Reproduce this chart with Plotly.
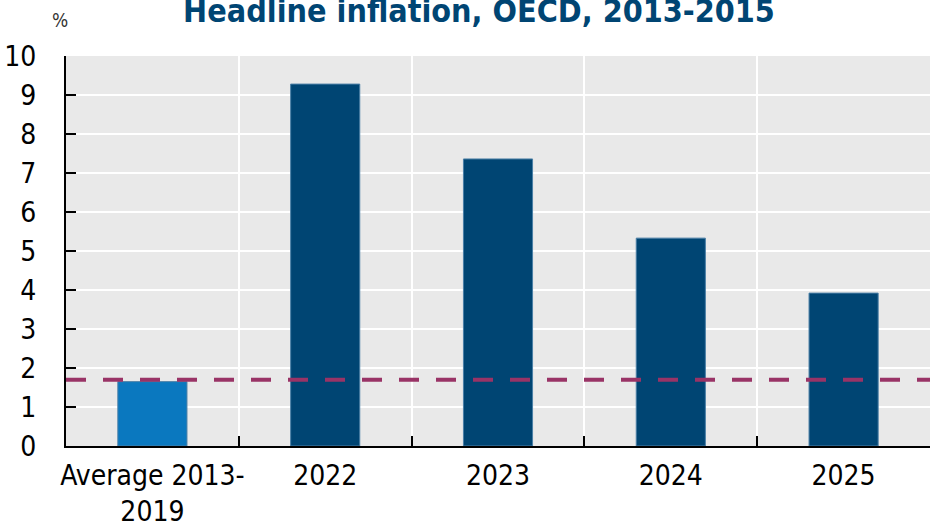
import plotly.graph_objects as go

categories = ["Average 2013-<br>2019", "2022", "2023", "2024", "2025"]
values = [1.65, 9.28, 7.36, 5.33, 3.92]
bar_colors = ["#0a78bf", "#004573", "#004573", "#004573", "#004573"]
reference_level = 1.7
y_ticks = [0, 1, 2, 3, 4, 5, 6, 7, 8, 9, 10]

FONT = "DejaVu Sans Condensed, Liberation Sans Narrow, Liberation Sans, Arial, sans-serif"

fig = go.Figure()
fig.add_trace(go.Bar(
    x=categories, y=values,
    marker=dict(color=bar_colors, line=dict(color="#4a7fa6", width=1)),
    width=0.4,
    showlegend=False,
))

fig.add_shape(type="line", xref="paper", x0=0, x1=1, yref="y",
              y0=reference_level, y1=reference_level,
              line=dict(color="#993366", width=4, dash="20px,17px"),
              layer="above")

fig.update_layout(
    width=930, height=526,
    margin=dict(l=66, r=0, t=56, b=80, autoexpand=False),
    paper_bgcolor="white",
    plot_bgcolor="#e9e9e9",
    font=dict(family=FONT, size=28, color="black"),
    title=dict(text="<b>Headline inflation, OECD, 2013-2015</b>",
               font=dict(family=FONT, size=32, color="#004573"),
               x=0.478, xanchor="center", xref="paper",
               y=1 - 11 / 526, yanchor="middle", yref="container",
               automargin=False),
    annotations=[dict(text="%", xref="paper", yref="paper", x=-0.007, y=1.092,
                      xanchor="center", yanchor="middle", showarrow=False,
                      font=dict(family=FONT, size=19, color="#333333"))],
    bargap=0.6,
)

fig.update_xaxes(
    type="category", automargin=False, tickangle=0,
    tickson="boundaries", ticks="inside", ticklen=10, tickcolor="black", tickwidth=2,
    showgrid=True, gridcolor="white", gridwidth=2,
    showline=True, linecolor="black", linewidth=2,
    ticklabelstandoff=3,
    tickfont=dict(family=FONT, size=28, color="black"),
)
fig.update_yaxes(
    range=[0, 10], tickvals=y_ticks, automargin=False,
    ticks="inside", ticklen=10, tickcolor="black", tickwidth=2,
    showgrid=True, gridcolor="white", gridwidth=2,
    showline=True, linecolor="black", linewidth=2,
    zeroline=False,
    ticklabelstandoff=22,
    tickfont=dict(family=FONT, size=28, color="black"),
)

fig.write_html(
    "out.html",
    config={"displayModeBar": False},
    post_script="document.body.style.margin='0';document.body.style.overflow='hidden';",
)
